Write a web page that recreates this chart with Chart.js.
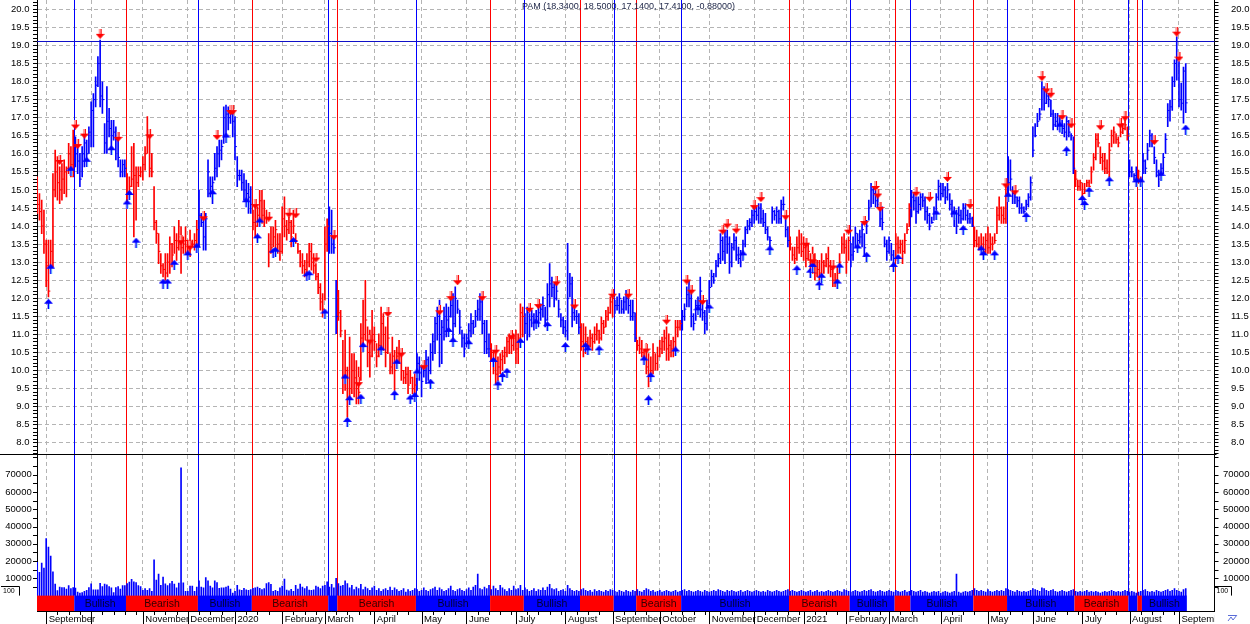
<!DOCTYPE html>
<html>
<head>
<meta charset="utf-8">
<script src="https://cdn.jsdelivr.net/npm/chart.js@4.4.0/dist/chart.umd.min.js"></script>
<style>
  html, body { margin: 0; padding: 0; background: #fff; }
  #wrap { width: 1250px; height: 624px; position: relative; }
</style>
</head>
<body>
<div id="wrap"><canvas id="chart" width="1250" height="624"></canvas></div>
<script>
// one bar per trading day, day 0 = 27 Aug 2019, last = 3 Sep 2021
const highs = [
  15.36, 14.90, 14.72, 14.44, 13.61, 13.61, 13.61, 15.45, 16.10, 15.92,
  15.64, 15.73, 15.83, 15.64, 16.29, 16.20, 16.66, 16.47, 16.29, 16.01,
  16.20, 16.47, 16.38, 16.75, 17.44, 17.67, 18.13, 18.69, 19.15, 17.99,
  16.84, 17.86, 17.26, 16.93, 16.93, 16.75, 16.38, 15.83, 15.83, 15.83,
  15.45, 15.36, 16.20, 16.29, 15.64, 15.64, 15.64, 15.92, 16.20, 17.03,
  16.66, 16.01, 15.09, 14.16, 13.79, 13.24, 12.96, 13.24, 13.24, 13.70,
  13.52, 13.98, 13.79, 14.16, 13.98, 13.70, 13.98, 13.61, 13.89, 13.61,
  13.79, 14.16, 14.99, 14.35, 14.25, 14.35, 15.83, 15.36, 15.36, 16.01,
  16.20, 16.38, 16.38, 17.30, 17.35, 17.30, 17.30, 17.12, 17.03, 15.92,
  15.55, 15.55, 15.45, 15.27, 15.18, 15.09, 14.44, 14.53, 14.53, 14.99,
  14.99, 14.72, 14.44, 13.79, 13.98, 13.98, 14.16, 13.79, 13.79, 14.53,
  14.81, 14.16, 14.25, 14.16, 14.44, 13.79, 13.52, 13.33, 13.24, 13.05,
  13.24, 13.52, 13.52, 13.24, 12.96, 12.69, 12.41, 12.13, 13.98, 14.20,
  14.53, 14.44, 13.79, 12.50, 12.22, 11.67, 10.84, 11.12, 10.10, 10.93,
  10.47, 10.47, 10.28, 10.10, 11.30, 11.95, 12.50, 11.21, 11.12, 11.67,
  11.21, 10.75, 11.02, 11.76, 11.58, 11.21, 11.48, 10.47, 10.93, 10.56,
  10.65, 10.84, 10.56, 10.01, 10.10, 10.10, 10.01, 9.82, 9.91, 10.47,
  10.38, 10.10, 10.28, 10.56, 10.38, 10.75, 11.02, 11.48, 11.76, 11.95,
  11.39, 11.76, 11.85, 11.76, 12.04, 12.13, 12.32, 11.95, 11.67, 11.12,
  11.02, 11.02, 11.30, 11.58, 11.39, 11.67, 11.95, 12.13, 11.95, 11.39,
  11.39, 11.02, 10.75, 10.56, 10.47, 10.38, 10.47, 10.56, 10.65, 10.93,
  11.02, 11.02, 11.02, 11.12, 11.02, 11.85, 11.76, 11.58, 11.76, 11.58,
  11.67, 11.58, 11.67, 11.76, 11.85, 12.04, 11.76, 12.41, 12.96, 12.59,
  12.41, 12.50, 11.95, 11.58, 11.48, 11.39, 13.52, 12.69, 12.59, 11.76,
  11.67, 11.58, 11.30, 11.30, 11.21, 10.93, 11.12, 11.02, 11.21, 11.30,
  11.12, 11.48, 11.39, 11.67, 11.76, 12.04, 12.13, 11.95, 12.04, 12.13,
  11.95, 12.04, 12.22, 12.04, 11.95, 11.95, 11.60, 10.84, 10.93, 10.84,
  10.56, 10.75, 10.47, 10.38, 10.75, 10.47, 10.65, 10.84, 10.93, 11.12,
  11.21, 11.02, 10.84, 10.93, 11.39, 11.39, 11.39, 11.67, 11.85, 12.32,
  12.50, 12.13, 11.58, 11.95, 12.04, 12.59, 12.04, 11.67, 11.95, 12.50,
  12.78, 12.69, 13.05, 13.24, 13.79, 13.70, 13.89, 13.89, 13.70, 13.52,
  13.79, 13.70, 13.42, 13.33, 13.61, 13.98, 14.16, 14.21, 14.44, 14.53,
  14.53, 14.62, 14.62, 14.44, 14.35, 13.98, 13.70, 14.53, 14.44, 14.53,
  14.44, 14.72, 14.81, 14.35, 13.98, 13.70, 13.42, 13.42, 13.70, 13.89,
  13.79, 13.70, 13.61, 13.52, 13.24, 13.42, 13.24, 13.05, 13.05, 13.24,
  13.05, 13.24, 13.42, 13.05, 12.87, 12.69, 12.87, 13.24, 13.70, 13.79,
  13.61, 13.70, 13.52, 13.70, 13.98, 13.79, 13.89, 14.07, 13.79, 14.16,
  14.72, 15.18, 15.09, 15.09, 14.99, 14.53, 14.53, 13.70, 13.61, 13.70,
  13.52, 13.33, 13.79, 13.70, 13.61, 13.61, 13.79, 14.07, 14.62, 14.99,
  14.90, 14.81, 14.81, 14.90, 14.90, 14.81, 14.53, 14.35, 14.25, 14.53,
  14.90, 15.27, 15.18, 15.18, 15.09, 15.18, 14.90, 14.72, 14.53, 14.44,
  14.53, 14.44, 14.62, 14.62, 14.44, 14.35, 14.25, 13.98, 13.89, 13.70,
  13.79, 13.70, 13.79, 13.98, 13.79, 13.70, 13.79, 14.53, 14.81, 14.53,
  14.53, 15.09, 15.92, 15.83, 15.09, 14.90, 14.81, 14.81, 14.62, 14.53,
  14.72, 14.90, 15.36, 16.75, 16.84, 17.12, 17.26, 17.99, 17.86, 17.76,
  17.67, 17.49, 17.21, 17.12, 17.12, 17.03, 16.93, 16.84, 17.03, 16.93,
  16.56, 16.47, 15.55, 15.27, 15.27, 15.18, 15.18, 15.27, 15.27, 15.64,
  16.01, 16.56, 16.56, 16.19, 16.01, 16.01, 15.83, 16.29, 16.66, 16.75,
  16.56, 16.47, 16.75, 16.84, 16.93, 16.75, 15.83, 15.64, 15.45, 15.64,
  15.55, 15.36, 16.01, 15.83, 16.29, 16.66, 16.56, 16.19, 15.83, 15.55,
  15.73, 16.01, 16.56, 17.39, 17.49, 18.13, 18.60, 19.24, 18.55, 17.96,
  18.40, 18.50
];
const lows = [
  14.35, 14.16, 13.79, 13.24, 12.32, 12.04, 12.87, 12.87, 14.81, 14.72,
  14.62, 14.72, 14.90, 14.81, 15.45, 15.36, 15.36, 15.64, 15.45, 15.09,
  15.36, 15.64, 15.83, 16.01, 16.19, 16.19, 17.30, 17.86, 17.30, 17.12,
  16.01, 16.01, 16.47, 16.10, 16.38, 15.83, 15.64, 15.36, 15.36, 15.36,
  14.53, 14.90, 15.09, 13.70, 14.16, 15.09, 15.36, 15.27, 15.55, 16.01,
  15.36, 15.36, 13.89, 13.52, 12.96, 12.69, 12.59, 12.50, 12.59, 12.69,
  12.87, 13.24, 13.05, 13.33, 12.69, 13.24, 13.24, 13.24, 13.15, 13.42,
  13.33, 13.42, 13.42, 13.98, 13.33, 13.33, 14.81, 14.81, 14.62, 15.27,
  15.36, 15.64, 15.83, 16.29, 16.52, 16.66, 16.84, 16.47, 15.83, 15.09,
  15.27, 14.99, 14.72, 14.53, 14.35, 14.35, 13.89, 13.70, 13.98, 14.16,
  14.07, 13.98, 14.07, 12.87, 13.24, 13.42, 13.24, 13.24, 13.05, 13.24,
  13.70, 13.61, 13.79, 13.42, 13.79, 13.52, 13.24, 12.87, 12.69, 12.59,
  12.69, 12.87, 12.78, 12.69, 12.50, 12.13, 11.67, 11.48, 11.95, 13.30,
  13.24, 13.24, 13.24, 11.02, 11.39, 10.93, 9.36, 9.45, 8.71, 9.08,
  9.36, 9.27, 9.08, 9.08, 9.73, 10.65, 10.84, 10.10, 9.82, 10.38,
  10.56, 10.10, 10.38, 10.56, 10.56, 10.10, 10.47, 9.91, 9.91, 9.45,
  10.10, 10.19, 9.73, 9.64, 9.64, 9.36, 9.64, 9.36, 9.18, 9.45,
  9.73, 9.27, 9.82, 9.64, 9.73, 9.91, 10.28, 10.47, 10.84, 10.10,
  10.19, 10.84, 10.93, 11.12, 11.48, 10.84, 11.21, 11.58, 11.02, 10.65,
  10.38, 10.65, 10.75, 10.93, 11.02, 11.21, 11.39, 11.39, 11.02, 10.47,
  10.47, 10.38, 10.28, 9.91, 9.64, 9.73, 9.91, 10.01, 10.19, 10.38,
  10.47, 10.47, 10.56, 10.19, 10.19, 10.84, 10.93, 11.02, 10.84, 10.93,
  11.21, 11.12, 11.30, 11.21, 11.39, 11.48, 11.21, 11.39, 11.76, 12.04,
  11.76, 11.95, 11.48, 11.21, 11.02, 10.93, 10.84, 12.04, 11.21, 11.39,
  11.30, 11.02, 10.56, 10.38, 10.47, 10.47, 10.65, 10.56, 10.75, 10.84,
  10.75, 10.84, 11.02, 11.21, 11.39, 11.58, 11.48, 11.58, 11.67, 11.58,
  11.58, 11.58, 11.67, 11.58, 11.39, 11.39, 10.80, 10.56, 10.47, 10.38,
  10.19, 9.91, 9.55, 9.73, 9.91, 10.01, 10.01, 10.38, 10.47, 10.56,
  10.28, 10.28, 10.38, 10.38, 10.56, 10.93, 11.12, 11.12, 11.39, 11.76,
  11.76, 11.21, 11.12, 11.39, 11.58, 11.48, 11.39, 11.02, 11.12, 11.85,
  12.32, 12.41, 12.59, 12.87, 12.96, 13.05, 12.96, 13.24, 12.69, 12.87,
  13.33, 13.05, 12.96, 12.87, 13.05, 13.42, 13.79, 13.89, 13.98, 14.07,
  14.16, 14.07, 14.07, 13.98, 13.79, 13.61, 13.42, 14.07, 14.16, 14.07,
  14.07, 14.07, 14.44, 13.70, 13.42, 13.33, 13.05, 12.96, 13.05, 13.24,
  13.15, 13.05, 12.87, 13.05, 12.69, 12.69, 12.50, 12.59, 12.50, 12.59,
  12.69, 12.87, 12.69, 12.59, 12.32, 12.32, 12.50, 12.69, 13.24, 13.24,
  12.69, 13.05, 12.87, 13.05, 13.42, 13.33, 13.52, 13.42, 13.15, 13.79,
  14.16, 14.53, 14.62, 14.53, 14.53, 13.98, 13.89, 13.42, 13.05, 13.24,
  13.05, 12.78, 13.05, 13.24, 13.24, 12.96, 13.24, 13.79, 13.98, 14.25,
  14.44, 14.07, 14.35, 14.44, 14.53, 14.16, 14.07, 13.89, 14.07, 14.16,
  14.44, 14.72, 14.72, 14.81, 14.62, 14.72, 14.44, 14.25, 13.98, 13.79,
  14.07, 14.07, 14.16, 14.16, 14.07, 14.07, 13.98, 13.42, 13.42, 13.33,
  13.24, 13.15, 13.24, 13.24, 13.24, 13.33, 13.52, 13.79, 14.16, 14.07,
  14.07, 14.07, 14.81, 14.99, 14.62, 14.62, 14.53, 14.35, 14.35, 14.35,
  14.44, 14.53, 14.72, 15.92, 16.47, 16.75, 16.93, 17.21, 17.21, 17.39,
  17.30, 17.03, 16.66, 16.75, 16.66, 16.60, 16.56, 16.47, 16.38, 16.47,
  16.38, 15.45, 15.09, 14.99, 14.99, 14.72, 14.90, 15.09, 15.09, 15.18,
  15.55, 15.83, 16.19, 15.73, 15.55, 15.45, 15.45, 15.36, 16.19, 16.29,
  16.29, 16.19, 16.47, 16.56, 16.66, 16.38, 15.36, 15.36, 15.27, 15.27,
  15.18, 15.09, 15.45, 15.45, 15.83, 16.19, 16.19, 15.73, 15.36, 15.09,
  15.36, 15.45, 16.01, 16.75, 16.90, 17.20, 17.86, 18.04, 17.30, 17.21,
  16.85, 17.14
];
const closes = [
  14.6, 14.4, 14.0, 13.5, 12.9, 12.2, 13.3, 15.0, 15.5, 15.2,
  15.0, 15.3, 15.5, 15.6, 16.0, 15.7, 16.2, 16.0, 15.8, 15.3,
  16.0, 16.3, 16.0, 16.6, 17.2, 17.5, 17.9, 18.5, 17.6, 17.5,
  16.3, 16.9, 16.7, 16.5, 16.6, 16.4, 15.9, 15.5, 15.7, 15.6,
  14.8, 15.1, 15.3, 15.4, 15.2, 15.4, 15.5, 15.7, 16.0, 16.6,
  15.6, 15.5, 14.1, 13.8, 13.3, 12.9, 12.8, 12.7, 13.0, 13.5,
  13.2, 13.6, 13.4, 13.7, 13.4, 13.5, 13.6, 13.4, 13.5, 13.5,
  13.6, 13.9, 14.3, 14.1, 13.7, 14.2, 15.5, 15.1, 15.2, 15.6,
  16.0, 16.1, 16.2, 17.0, 17.1, 17.0, 17.1, 16.9, 16.2, 15.4,
  15.4, 15.2, 15.0, 14.9, 14.8, 14.6, 14.1, 14.0, 14.3, 14.7,
  14.3, 14.2, 14.2, 13.3, 13.4, 13.7, 13.9, 13.5, 13.3, 14.2,
  14.0, 13.9, 14.1, 13.7, 14.0, 13.6, 13.3, 13.0, 12.9, 12.8,
  13.0, 13.3, 13.0, 12.9, 12.6, 12.3, 11.9, 11.7, 13.5, 14.0,
  13.8, 13.5, 13.4, 11.5, 11.6, 11.1, 9.8, 10.0, 9.2, 9.5,
  10.0, 9.8, 9.5, 9.4, 10.9, 11.0, 11.4, 10.5, 10.4, 11.0,
  10.8, 10.4, 10.7, 11.3, 11.0, 10.5, 10.9, 10.1, 10.4, 10.0,
  10.4, 10.5, 10.0, 9.8, 9.9, 9.6, 9.8, 9.5, 9.6, 10.2,
  10.1, 9.7, 10.0, 10.3, 10.0, 10.5, 10.8, 11.3, 11.5, 11.0,
  11.2, 11.5, 11.4, 11.5, 11.8, 11.3, 12.0, 11.7, 11.2, 10.9,
  10.6, 10.9, 11.1, 11.3, 11.2, 11.5, 11.7, 11.9, 11.3, 10.8,
  10.6, 10.6, 10.5, 10.2, 9.9, 10.1, 10.3, 10.4, 10.5, 10.8,
  10.9, 10.7, 10.9, 10.6, 10.9, 11.6, 11.5, 11.3, 11.6, 11.4,
  11.5, 11.4, 11.5, 11.6, 11.7, 11.8, 11.4, 12.1, 12.4, 12.3,
  12.0, 12.2, 11.7, 11.4, 11.2, 11.1, 12.0, 12.4, 11.6, 11.5,
  11.5, 11.2, 10.8, 10.7, 10.8, 10.7, 10.9, 10.8, 11.0, 11.1,
  10.9, 11.3, 11.2, 11.5, 11.6, 11.9, 12.0, 11.8, 11.8, 12.0,
  11.7, 11.9, 12.0, 11.8, 11.5, 11.6, 10.9, 10.7, 10.6, 10.5,
  10.3, 10.1, 9.7, 10.0, 10.5, 10.2, 10.4, 10.6, 10.8, 10.9,
  10.6, 10.7, 10.6, 10.8, 11.2, 11.2, 11.3, 11.5, 11.7, 12.1,
  12.0, 11.5, 11.3, 11.8, 11.8, 12.2, 11.6, 11.3, 11.8, 12.3,
  12.6, 12.5, 12.9, 13.1, 13.6, 13.3, 13.7, 13.5, 13.0, 13.4,
  13.6, 13.2, 13.1, 13.2, 13.5, 13.9, 14.0, 14.1, 14.3, 14.4,
  14.3, 14.5, 14.2, 14.1, 13.9, 13.7, 13.6, 14.4, 14.3, 14.4,
  14.2, 14.6, 14.6, 13.9, 13.6, 13.5, 13.2, 13.1, 13.4, 13.5,
  13.3, 13.4, 13.1, 13.3, 12.9, 13.1, 12.7, 12.8, 12.7, 13.0,
  12.9, 13.1, 12.9, 12.8, 12.5, 12.5, 12.7, 13.0, 13.5, 13.4,
  13.0, 13.6, 13.2, 13.3, 13.8, 13.6, 13.7, 13.9, 13.4, 14.0,
  14.5, 15.0, 14.9, 14.7, 14.6, 14.2, 14.1, 13.5, 13.3, 13.6,
  13.2, 13.1, 13.5, 13.4, 13.5, 13.3, 13.6, 13.9, 14.5, 14.8,
  14.7, 14.4, 14.6, 14.8, 14.7, 14.4, 14.3, 14.0, 14.1, 14.4,
  14.8, 15.1, 14.9, 15.0, 14.8, 15.0, 14.6, 14.4, 14.2, 14.0,
  14.3, 14.2, 14.5, 14.3, 14.2, 14.2, 14.0, 13.6, 13.5, 13.4,
  13.5, 13.3, 13.6, 13.4, 13.5, 13.5, 13.6, 14.3, 14.5, 14.3,
  14.2, 14.9, 15.2, 15.3, 14.9, 14.8, 14.7, 14.5, 14.5, 14.4,
  14.6, 14.8, 15.2, 16.1, 16.5, 16.9, 17.1, 17.8, 17.4, 17.6,
  17.5, 17.1, 16.8, 16.9, 16.8, 16.8, 16.7, 16.6, 16.9, 16.6,
  16.5, 15.6, 15.3, 15.1, 15.2, 14.9, 15.0, 15.2, 15.1, 15.5,
  15.9, 16.4, 16.3, 15.9, 15.8, 15.6, 15.5, 16.1, 16.5, 16.6,
  16.4, 16.3, 16.6, 16.7, 16.8, 16.5, 15.5, 15.5, 15.4, 15.3,
  15.3, 15.2, 15.8, 15.6, 16.1, 16.5, 16.3, 15.9, 15.5, 15.3,
  15.6, 15.9, 16.4, 17.2, 17.3, 18.0, 18.5, 18.6, 17.5, 17.4,
  18.29, 17.41
];
// volume in thousands of shares
const volumes = [
  19.3, 13.5, 18.8, 16.0, 33.0, 28.1, 22.9, 13.7, 6.7, 2.9,
  5.0, 4.7, 4.7, 3.8, 5.8, 4.0, 4.7, 4.4, 2.0, 1.5,
  1.7, 2.5, 3.0, 4.7, 6.8, 3.3, 3.3, 3.3, 7.1, 5.2,
  6.7, 6.2, 5.2, 4.5, 1.8, 4.7, 5.2, 3.8, 5.8, 5.8,
  7.0, 7.8, 9.4, 8.0, 7.5, 5.8, 5.2, 3.0, 4.0, 3.0,
  4.0, 2.5, 20.7, 9.0, 12.5, 6.0, 10.7, 6.8, 5.8, 7.0,
  8.2, 6.7, 4.5, 7.2, 74.0, 7.4, 2.5, 2.5, 5.5, 5.5,
  2.5, 5.0, 8.5, 5.0, 4.5, 10.5, 8.5, 5.5, 4.5, 8.5,
  7.5, 4.2, 4.5, 4.5, 5.0, 5.5, 3.8, 1.5, 2.5, 6.0,
  3.3, 3.0, 4.2, 3.3, 3.0, 3.5, 4.2, 4.5, 5.0, 4.2,
  3.5, 4.0, 7.0, 7.5, 6.5, 2.5, 3.0, 2.5, 4.5, 5.5,
  9.5, 3.2, 2.8, 3.6, 2.5, 6.0, 3.8, 6.6, 5.0, 4.0,
  5.2, 3.2, 3.0, 3.3, 5.5, 5.0, 4.0, 5.5, 6.0, 8.0,
  5.0, 6.5, 4.5, 10.0, 7.0, 5.5, 6.0, 8.5, 7.0, 4.5,
  6.0, 3.5, 5.0, 4.0, 6.5, 3.5, 5.0, 4.0, 3.0, 4.5,
  5.5, 3.0, 4.0, 2.5, 3.5, 4.0, 3.0, 5.0, 3.0, 4.5,
  3.5, 2.5, 3.0, 4.0, 2.0, 3.5, 2.5, 3.0, 4.0, 3.5,
  2.5, 3.0, 4.5, 3.0, 2.5, 3.5, 4.0, 5.0, 3.0, 4.5,
  3.5, 2.5, 3.0, 4.0, 5.5, 3.0, 2.5, 3.5, 4.0, 3.0,
  2.5, 3.5, 4.5, 3.0, 5.0, 6.0, 12.5, 4.0, 3.5, 5.0,
  4.0, 6.0, 3.5, 5.5, 4.0, 3.0, 6.0, 4.5, 3.5, 2.5,
  4.0, 3.0, 5.5, 3.5, 4.0, 6.0, 3.0, 4.5, 3.5, 2.5,
  3.0, 4.0, 2.5, 3.5, 3.0, 4.5, 3.0, 5.0, 6.5, 4.0,
  3.5, 4.0, 2.5, 3.0, 3.5, 2.5, 6.0, 4.0, 3.0, 2.5,
  3.0, 2.5, 3.5, 4.0, 3.0, 2.5, 3.0, 2.0, 3.5, 2.5,
  3.0, 2.5, 2.0, 3.0, 2.5, 3.5, 3.0, 2.5, 2.0, 3.0,
  2.5, 2.0, 3.0, 2.5, 2.0, 3.0, 2.5, 3.5, 2.5, 2.0,
  3.0, 4.0, 3.5, 2.5, 3.0, 2.0, 2.5, 3.0, 2.0, 2.5,
  3.0, 2.5, 2.0, 2.5, 3.0, 2.0, 2.5, 3.0, 3.5, 2.5,
  3.0, 2.5, 2.0, 2.5, 3.0, 2.5, 2.0, 3.0, 2.5, 2.0,
  2.5, 3.0, 2.5, 3.5, 3.0, 2.5, 2.0, 3.0, 2.5, 3.0,
  2.5, 2.0, 2.5, 3.0, 2.0, 2.5, 3.0, 2.5, 2.0, 2.5,
  3.0, 2.5, 2.0, 2.5, 2.0, 3.0, 2.5, 2.0, 2.5, 3.0,
  2.5, 2.0, 2.5, 3.0, 3.5, 2.5, 3.0, 2.5, 2.0, 2.5,
  3.0, 2.5, 2.0, 2.5, 3.0, 2.0, 2.5, 3.0, 2.0, 2.5,
  2.0, 2.5, 3.0, 2.5, 2.0, 2.5, 3.0, 2.5, 2.0, 3.5,
  3.0, 2.5, 2.0, 2.5, 3.0, 2.5, 2.0, 2.5, 3.0, 2.5,
  3.0, 3.5, 2.5, 2.0, 2.5, 3.0, 2.5, 2.0, 2.5, 3.0,
  2.5, 2.0, 3.0, 2.5, 2.0, 2.5, 3.0, 2.0, 2.5, 3.0,
  2.5, 2.0, 2.5, 3.0, 2.0, 2.5, 2.0, 1.5, 2.0, 2.5,
  2.0, 2.5, 1.5, 2.0, 2.5, 2.0, 1.5, 2.0, 2.5, 12.5,
  2.0, 1.5, 2.0, 2.5, 2.0, 2.5, 3.0, 4.0, 3.0, 2.5,
  3.0, 2.5, 2.0, 3.5, 2.5, 2.0, 2.5, 3.0, 2.5, 3.0,
  2.5, 4.0, 3.5, 3.0, 2.5, 2.0, 3.0, 2.5, 2.0, 2.5,
  2.0, 2.5, 3.0, 4.0, 3.5, 3.0, 2.5, 4.5, 4.0, 3.0,
  2.5, 3.0, 3.5, 2.5, 2.0, 2.5, 3.0, 2.5, 2.0, 2.5,
  3.0, 3.5, 2.5, 2.0, 2.5, 2.0, 2.5, 3.0, 2.0, 2.5,
  2.0, 2.5, 2.0, 1.5, 2.0, 2.5, 2.0, 2.5, 3.0, 2.5,
  2.0, 2.5, 2.0, 2.5, 3.0, 2.5, 2.0, 2.5, 2.0, 1.5,
  2.0, 2.5, 3.0, 3.5, 2.5, 2.0, 2.5, 2.0, 3.0, 2.5,
  2.0, 2.5, 3.0, 3.5, 2.5, 3.0, 4.0, 3.0, 2.5, 2.0,
  3.5, 4.0
];

// trend regimes: first day of each regime
const regimeStarts = [0, 17, 40, 72, 96, 130, 134, 169, 202, 217, 242, 257,
  267, 287, 335, 362, 382, 389, 417, 432, 462, 486, 490, 492];
const regimeNames = ['Bearish', 'Bullish', 'Bearish', 'Bullish', 'Bearish', 'Bullish',
  'Bearish', 'Bullish', 'Bearish', 'Bullish', 'Bearish', 'Bullish',
  'Bearish', 'Bullish', 'Bearish', 'Bullish', 'Bearish', 'Bullish',
  'Bearish', 'Bullish', 'Bearish', 'Bullish', 'Bearish', 'Bullish'];
const lastDay = 512;

// signal arrows
const sellDays = [10, 17, 18, 21, 28, 36, 50, 64, 68, 74, 80, 86, 87, 97, 103, 112, 115, 124, 132,
  143, 148, 156, 162, 172, 179, 184, 187, 198, 204, 211, 219, 223, 231, 239, 256, 263,
  271, 280, 289, 291, 296, 305, 307, 311, 319, 322, 333, 342, 345, 354, 361, 368, 373, 374, 375,
  391, 397, 405, 415, 431, 435, 447, 449, 451, 456, 460, 473, 482, 484, 497, 507, 508];
const sellPrices = [15.83, 16.81, 16.27, 16.56, 19.32, 16.47, 16.54, 13.61, 13.46, 14.27, 16.52, 17.21, 17.21, 14.61, 14.26, 14.37, 14.35, 13.13, 13.75,
  9.68, 10.86, 11.62, 10.50, 10.15, 11.67, 12.06, 12.50, 12.06, 10.58, 10.98, 11.74, 11.84, 12.47, 11.83, 12.13, 12.13,
  10.61, 11.41, 12.52, 12.24, 11.95, 13.90, 14.07, 13.93, 14.58, 14.80, 14.30, 13.54, 13.08, 12.91, 13.90, 14.14, 15.11, 14.90, 14.53,
  14.95, 14.81, 15.36, 14.61, 15.18, 14.99, 18.15, 17.81, 17.69, 17.07, 16.84, 16.79, 16.84, 17.04, 16.38, 19.38, 18.69];
const buyDays = [5, 6, 15, 22, 33, 40, 41, 44, 56, 58, 61, 67, 71, 78, 84, 93, 98, 99, 105, 106, 114, 120, 121, 128,
  137, 138, 139, 144, 145, 153, 159, 160, 166, 168, 169, 175, 183, 185, 192, 203, 205, 207, 209, 215, 222, 227, 235, 244, 245, 250,
  270, 272, 273, 284, 294, 299, 314, 326, 338, 344, 345, 348, 349, 356, 357, 365, 369, 381, 383,
  400, 408, 412, 420, 421, 426, 432, 440, 455, 458, 465, 466, 468, 477, 489, 491, 500, 511];
const buyPrices = [11.85, 12.82, 15.53, 15.78, 16.10, 14.60, 14.86, 13.54, 12.41, 12.41, 12.93, 13.19, 13.40, 14.88, 16.45, 14.66, 13.66, 14.10, 13.26, 13.29, 13.56, 12.61, 12.64, 11.58,
  9.78, 8.58, 9.18, 9.22, 10.65, 10.56, 9.32, 10.19, 9.20, 9.27, 9.92, 9.64, 11.07, 10.79, 10.73, 10.24, 9.59, 9.82, 9.94, 10.77, 11.30, 11.23, 10.65, 10.65, 10.56, 10.56,
  10.28, 9.18, 9.82, 10.53, 11.67, 11.72, 13.19, 13.33, 12.78, 12.71, 12.87, 12.36, 12.57, 12.41, 12.85, 13.38, 13.15, 12.87, 13.09,
  14.32, 14.32, 13.89, 13.33, 13.19, 13.19, 14.81, 14.25, 16.75, 16.07, 14.72, 14.58, 14.95, 15.24, 15.21, 15.21, 15.39, 16.67];

// month starts (trading-day index) and their axis labels
const monthDays = [4, 24, 47, 67, 88, 109, 128, 150, 171, 191, 213, 235, 256, 277, 299, 319,
  341, 360, 379, 402, 423, 443, 465, 486, 508];
const monthLabels = ['September', '', 'November', 'December', '2020', 'February', 'March', 'April',
  'May', 'June', 'July', 'August', 'September', 'October', 'November', 'December', '2021',
  'February', 'March', 'April', 'May', 'June', 'July', 'August', 'September'];

const priceLabels = ['8.0', '8.5', '9.0', '9.5', '10.0', '10.5', '11.0', '11.5', '12.0', '12.5',
  '13.0', '13.5', '14.0', '14.5', '15.0', '15.5', '16.0', '16.5', '17.0', '17.5', '18.0', '18.5',
  '19.0', '19.5', '20.0'];
const volumeLabels = ['10000', '20000', '30000', '40000', '50000', '60000', '70000'];

const refLevel = 19.11;
const titleText = 'PAM (18.3400, 18.5000, 17.1400, 17.4100, -0.88000)';

// ---- layout / style ----
const BEAR = '#ff0000', BULL = '#0000ff', GRID = '#b4b4b4';
const FONT = 'Liberation Sans, Arial, sans-serif';
const XMIN = -0.09, XMAX = 523.8;          // day axis
const PMIN = 3.346, PMAX = 20.257;         // price axis over whole plot height
const VMIN = -8.92, VMAX = 344.9;          // volume axis (thousands)
const PANEL_SPLIT = 7.683;                 // price value where the price panel ends
const CLOSE_DX = 0.45;

function regimeIndex(day) {
  let k = 0;
  for (let j = 0; j < regimeStarts.length; j++) if (regimeStarts[j] <= day) k = j;
  return k;
}
const barColors = highs.map((h, i) => regimeNames[regimeIndex(i)] === 'Bearish' ? BEAR : BULL);

function makeArrow(down) {
  const c = document.createElement('canvas');
  c.width = 9; c.height = 10;
  const g = c.getContext('2d');
  const main = down ? '#ff0000' : '#0000ff';
  const light = down ? '#ff9c9c' : '#9c9cff';
  if (down) {
    g.fillStyle = light; g.fillRect(3, 0, 2, 5);
    g.fillStyle = main; g.fillRect(5, 0, 1, 5);
    g.beginPath(); g.moveTo(0, 5); g.lineTo(9, 5); g.lineTo(4.5, 10); g.closePath(); g.fill();
  } else {
    g.fillStyle = main;
    g.beginPath(); g.moveTo(4.5, 0); g.lineTo(9, 5); g.lineTo(0, 5); g.closePath(); g.fill();
    g.fillStyle = light; g.fillRect(3, 5, 1, 5);
    g.fillStyle = main; g.fillRect(4, 5, 1, 5);
    g.fillStyle = '#7fd4ff'; g.fillRect(5, 5, 1, 5);
  }
  return c;
}
const downArrow = makeArrow(true);
const upArrow = makeArrow(false);

const tickFont = { family: FONT, size: 9.5 };
const priceTicks = [];
for (let k = 77; k <= 202; k++) priceTicks.push(k / 10);
const volumeTicks = [];
for (let k = 5; k <= 80; k += 5) volumeTicks.push(k);

function priceLabel(v) {
  const k = Math.round(v * 10);
  return (k % 5 === 0 && k >= 80 && k <= 200) ? priceLabels[(k - 80) / 5] : '';
}
function volumeLabel(v) {
  const k = Math.round(v);
  return (k % 10 === 0 && k >= 10 && k <= 70) ? volumeLabels[k / 10 - 1] : '';
}
function noPad(s) { s.paddingTop = 0; s.paddingBottom = 0; s.paddingLeft = 0; s.paddingRight = 0; }

const overlay = {
  id: 'overlay',
  beforeDatasetsDraw(chart) {
    const { ctx, chartArea, scales } = chart;
    const bandTop = scales.yV.getPixelForValue(0);
    ctx.save();
    ctx.lineWidth = 1;
    for (let j = 1; j < regimeStarts.length; j++) {
      const x = Math.round(scales.x.getPixelForValue(regimeStarts[j] - 0.5)) + 0.5;
      ctx.strokeStyle = regimeNames[j] === 'Bearish' ? BEAR : BULL;
      ctx.beginPath(); ctx.moveTo(x, chartArea.top); ctx.lineTo(x, bandTop); ctx.stroke();
    }
    ctx.restore();
  },
  afterDatasetsDraw(chart) {
    const { ctx, chartArea, scales } = chart;
    const x = scales.x, yP = scales.yP, yV = scales.yV;
    const bandTop = yV.getPixelForValue(0);
    const bottom = chartArea.bottom;
    ctx.save();

    // volume axis ticks and labels on both sides
    ctx.strokeStyle = '#000'; ctx.lineWidth = 1;
    ctx.beginPath();
    volumeTicks.forEach(v => {
      const py = Math.round(yV.getPixelForValue(v)) + 0.5;
      ctx.moveTo(chartArea.left - 4, py); ctx.lineTo(chartArea.left, py);
      ctx.moveTo(chartArea.right, py); ctx.lineTo(chartArea.right + 4, py);
    });
    ctx.stroke();
    ctx.fillStyle = '#000'; ctx.font = '9.5px ' + FONT; ctx.textBaseline = 'middle';
    volumeTicks.forEach(v => {
      const lab = volumeLabel(v);
      if (!lab) return;
      const py = yV.getPixelForValue(v);
      ctx.textAlign = 'right'; ctx.fillText(lab, chartArea.left - 5.3, py);
      ctx.textAlign = 'left'; ctx.fillText(lab, chartArea.right + 8.5, py);
    });

    // reference level
    const yr = Math.round(yP.getPixelForValue(refLevel)) + 0.5;
    ctx.strokeStyle = '#1010c8'; ctx.lineWidth = 1;
    ctx.beginPath(); ctx.moveTo(chartArea.left, yr); ctx.lineTo(chartArea.right, yr); ctx.stroke();

    // panel separator
    const ys = Math.round(yP.getPixelForValue(PANEL_SPLIT)) + 0.5;
    ctx.strokeStyle = '#000'; ctx.lineWidth = 1;
    ctx.beginPath(); ctx.moveTo(0, ys); ctx.lineTo(chartArea.right + 2, ys); ctx.stroke();

    // regime band
    ctx.font = '10.5px ' + FONT;
    ctx.textAlign = 'center'; ctx.textBaseline = 'middle';
    for (let j = 0; j < regimeStarts.length; j++) {
      const end = j + 1 < regimeStarts.length ? regimeStarts[j + 1] : lastDay;
      const x0 = Math.max(chartArea.left, x.getPixelForValue(regimeStarts[j] - 0.5));
      const x1 = x.getPixelForValue(end - 0.5);
      ctx.fillStyle = regimeNames[j] === 'Bearish' ? BEAR : BULL;
      ctx.fillRect(x0, bandTop, x1 - x0, bottom - bandTop);
      if (x1 - x0 >= 44) {
        ctx.fillStyle = 'rgba(0,0,0,0.8)';
        ctx.fillText(regimeNames[j], (x0 + x1) / 2, (bandTop + bottom) / 2 + 0.5);
      }
    }
    ctx.strokeStyle = '#000'; ctx.lineWidth = 1;
    ctx.beginPath(); ctx.moveTo(chartArea.left, bottom + 0.5); ctx.lineTo(chartArea.right, bottom + 0.5); ctx.stroke();

    // date axis: weekly minor ticks, monthly major ticks and labels
    ctx.beginPath();
    for (let m = 0; m < monthDays.length; m++) {
      const next = m + 1 < monthDays.length ? monthDays[m + 1] : lastDay;
      for (let d = monthDays[m] + 5; d < next - 1; d += 5) {
        const px = Math.round(x.getPixelForValue(d)) + 0.5;
        ctx.moveTo(px, bottom); ctx.lineTo(px, bottom + 4);
      }
      const pm = Math.round(x.getPixelForValue(monthDays[m])) + 0.5;
      ctx.moveTo(pm, bottom); ctx.lineTo(pm, 624);
    }
    ctx.stroke();
    ctx.save();
    ctx.beginPath(); ctx.rect(0, bottom, chartArea.right, 624 - bottom); ctx.clip();
    ctx.fillStyle = '#000'; ctx.font = '9.5px ' + FONT;
    ctx.textAlign = 'left'; ctx.textBaseline = 'alphabetic';
    monthDays.forEach((d, m) => {
      if (monthLabels[m]) ctx.fillText(monthLabels[m], x.getPixelForValue(d) + 2.5, 622);
    });
    ctx.restore();

    // small scale markers in the bottom corners
    ctx.strokeStyle = '#000'; ctx.lineWidth = 1;
    ctx.beginPath();
    ctx.moveTo(1, 586.5); ctx.lineTo(19.5, 586.5); ctx.lineTo(19.5, bandTop);
    ctx.moveTo(chartArea.right, 586.5); ctx.lineTo(1231.5, 586.5); ctx.lineTo(1231.5, bandTop);
    ctx.stroke();
    ctx.fillStyle = '#000'; ctx.font = '7px ' + FONT;
    ctx.textAlign = 'left'; ctx.textBaseline = 'middle';
    ctx.fillText('100', 3, 591);
    ctx.fillText('100', chartArea.right + 2, 591);

    // little chart icon at bottom right
    ctx.strokeStyle = '#5a6cd8'; ctx.lineWidth = 1;
    ctx.beginPath();
    ctx.moveTo(1228, 621); ctx.lineTo(1231, 617); ctx.lineTo(1233, 620); ctx.lineTo(1237, 615);
    ctx.moveTo(1228, 615.5); ctx.lineTo(1236, 615.5);
    ctx.stroke();

    // title
    ctx.fillStyle = '#1c2446'; ctx.font = '9px ' + FONT;
    ctx.textAlign = 'left'; ctx.textBaseline = 'middle';
    ctx.fillText(titleText, 522, 7);
    ctx.restore();
  }
};

new Chart(document.getElementById('chart'), {
  type: 'bar',
  data: {
    datasets: [
      {
        type: 'scatter', label: 'sell', yAxisID: 'yP', order: 0,
        data: sellDays.map((d, i) => ({ x: d, y: sellPrices[i] })),
        pointStyle: downArrow, pointRadius: 5
      },
      {
        type: 'scatter', label: 'buy', yAxisID: 'yP', order: 0,
        data: buyDays.map((d, i) => ({ x: d, y: buyPrices[i] })),
        pointStyle: upArrow, pointRadius: 5
      },
      {
        type: 'scatter', label: 'close', yAxisID: 'yP', order: 1,
        data: closes.map((c, i) => ({ x: i + CLOSE_DX, y: c })),
        pointStyle: 'line', pointRadius: 0.9, pointBorderWidth: 1,
        pointBorderColor: barColors, pointBackgroundColor: barColors
      },
      {
        type: 'bar', label: 'range', yAxisID: 'yP', order: 2,
        data: highs.map((h, i) => ({ x: i, y: [lows[i], h] })),
        backgroundColor: barColors, borderWidth: 0, barThickness: 1, grouped: false
      },
      {
        type: 'bar', label: 'volume', yAxisID: 'yV', order: 3,
        data: volumes.map((v, i) => ({ x: i, y: v })),
        backgroundColor: BULL, borderWidth: 0, barThickness: 1, grouped: false
      }
    ]
  },
  options: {
    responsive: false, animation: false, events: [],
    layout: { padding: 0, autoPadding: false },
    plugins: { legend: { display: false }, tooltip: { enabled: false } },
    scales: {
      x: {
        type: 'linear', position: 'bottom', min: XMIN, max: XMAX, offset: false,
        afterBuildTicks: s => { s.ticks = monthDays.map(v => ({ value: v })); },
        afterFit: s => { s.height = 13; noPad(s); },
        ticks: { display: false },
        grid: { color: GRID, lineWidth: 1, drawTicks: false, offset: false },
        border: { display: true, color: '#000', dash: [4, 3] }
      },
      yP: {
        type: 'linear', position: 'left', min: PMIN, max: PMAX,
        afterBuildTicks: s => { s.ticks = priceTicks.map(v => ({ value: v })); },
        afterFit: s => { s.width = 37; noPad(s); },
        ticks: { autoSkip: false, padding: 3.5, color: '#000', font: tickFont, callback: priceLabel },
        grid: {
          color: c => (c.tick && priceLabel(c.tick.value) !== '') ? GRID : 'rgba(0,0,0,0)',
          tickColor: '#000', tickLength: 4, lineWidth: 1
        },
        border: { display: true, color: '#000', dash: [4, 3] }
      },
      yV: {
        type: 'linear', position: 'left', display: false, min: VMIN, max: VMAX
      },
      yPR: {
        type: 'linear', position: 'right', min: PMIN, max: PMAX,
        afterBuildTicks: s => { s.ticks = priceTicks.map(v => ({ value: v })); },
        afterFit: s => { s.width = 35.5; noPad(s); },
        ticks: { autoSkip: false, padding: 12.5, color: '#000', font: tickFont, callback: priceLabel },
        grid: { drawOnChartArea: false, tickColor: '#000', tickLength: 4 },
        border: { display: true, color: '#000' }
      }
    }
  },
  plugins: [overlay]
});
</script>
</body>
</html>
